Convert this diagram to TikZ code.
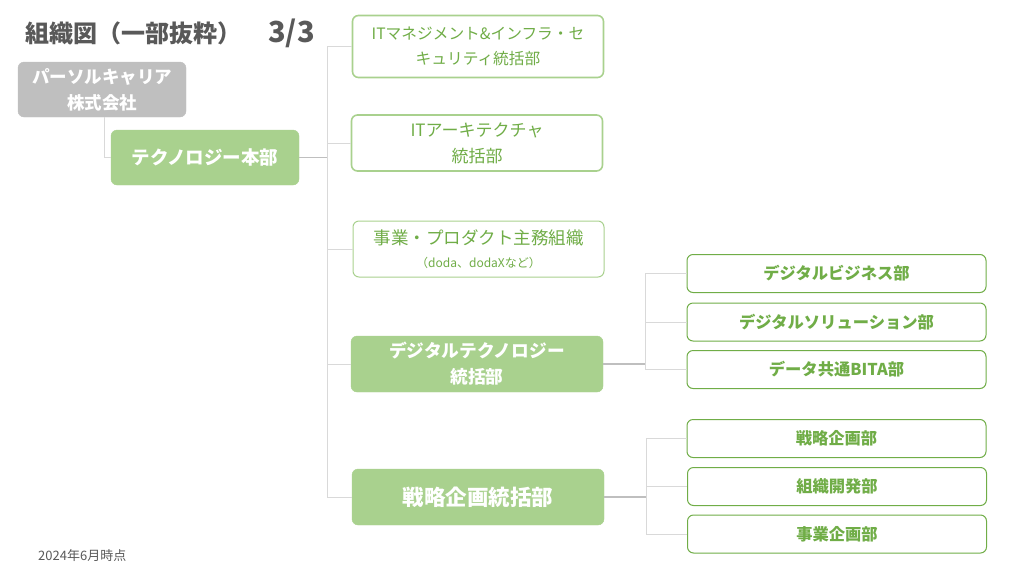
\documentclass[tikz,border=0pt]{standalone}
\usepackage{fontspec}
\setmainfont{Noto Sans CJK JP}
\definecolor{lgreen}{HTML}{A9D18E}
\definecolor{dgreen}{HTML}{70AD47}
\definecolor{pgray}{HTML}{BFBFBF}
\definecolor{lgray}{HTML}{D9D9D9}
\definecolor{tgray}{HTML}{595959}
\tikzset{
  fillbox/.style={fill=lgreen, draw=lgreen, rounded corners=6pt, text=white, align=center, font=\bfseries\fontsize{17.7}{26}\selectfont, inner sep=0pt},
  topbox/.style={fill=white, draw=lgreen, line width=1.6pt, rounded corners=6pt, text=dgreen, align=center, font=\fontsize{17}{26}\selectfont, minimum width=251pt, minimum height=56pt, inner sep=0pt},
  subbox/.style={fill=white, draw=dgreen, line width=1pt, rounded corners=6pt, text=dgreen, align=center, font=\bfseries\fontsize{16.3}{19}\selectfont, minimum width=299pt, minimum height=38pt, inner sep=0pt},
  conn/.style={draw=lgray, line width=1pt},
  stub/.style={draw=pgray, line width=1.6pt}
}
\begin{document}
\begin{tikzpicture}[x=1pt,y=-1pt]
\useasboundingbox (0,0) rectangle (1015,571);
% title
\node[anchor=west, inner sep=0pt, text=tgray, font=\bfseries\fontsize{24}{28}\selectfont] (title) at (25,33) {組織図（一部抜粋）\hspace{27pt}{\fontsize{29}{30}\selectfont 3/3}};
\node[anchor=west, inner sep=0pt, text=tgray, font=\fontsize{13}{15}\selectfont] (note) at (38,556) {2024年6月時点};
% parent
\node[fill=pgray, draw=pgray, rounded corners=6pt, text=white, align=center, font=\bfseries\fontsize{17.5}{26}\selectfont, minimum width=168pt, minimum height=55pt, inner sep=0pt] (parent) at (102,89.5) {パーソルキャリア\\株式会社};
\node[fillbox, minimum width=188pt, minimum height=55pt, font=\bfseries\fontsize{18.5}{22}\selectfont] (tech) at (205,157.5) {テクノロジー本部};
% level 2
\node[topbox, minimum height=62pt, font=\fontsize{15.7}{25}\selectfont] (b1) at (478,46.5) {ITマネジメント\&インフラ・セ\\キュリティ統括部};
\node[topbox] (b2) at (477,143) {ITアーキテクチャ\\統括部};
\node[topbox, line width=1pt] (b3) at (478.5,249) {\fontsize{17.5}{22}\selectfont 事業・プロダクト主務組織\\[-3pt]{\fontsize{12}{14}\selectfont （doda、dodaXなど）}};
\node[fillbox, minimum width=252pt, minimum height=56pt] (b4) at (477,364) {デジタルテクノロジー\\統括部};
\node[fillbox, minimum width=252pt, minimum height=56pt, font=\bfseries\fontsize{21.5}{24}\selectfont] (b5) at (478,497) {戦略企画統括部};
% level 3
\node[subbox] (c1) at (836.5,273.5) {デジタルビジネス部};
\node[subbox] (c2) at (836.5,322) {デジタルソリューション部};
\node[subbox] (c3) at (836.5,369.5) {データ共通BITA部};
\node[subbox] (d1) at (836.5,438.5) {戦略企画部};
\node[subbox] (d2) at (837,486.5) {組織開発部};
\node[subbox] (d3) at (837,534) {事業企画部};
% junctions
\coordinate (jp) at (104,157.5);
\coordinate (j1) at (327,157.5);
\coordinate (j2) at (645,364);
\coordinate (j3) at (646,497);
% connectors
\draw[conn] (parent.south -| jp) -- (jp) -- (tech.west);
\draw[stub] (tech.east) -- (j1);
\draw[conn] (b1.west) -| (j1);
\draw[conn] (b2.west) -| (j1);
\draw[conn] (b3.west) -| (j1);
\draw[conn] (b4.west) -| (j1);
\draw[conn] (b5.west) -| (j1);
\draw[stub] (b4.east) -- (j2);
\draw[conn] (c1.west) -| (j2);
\draw[conn] (c2.west) -| (j2);
\draw[conn] (c3.west) -| (j2);
\draw[stub] (b5.east) -- (j3);
\draw[conn] (d1.west) -| (j3);
\draw[conn] (d2.west) -| (j3);
\draw[conn] (d3.west) -| (j3);
\end{tikzpicture}
\end{document}
